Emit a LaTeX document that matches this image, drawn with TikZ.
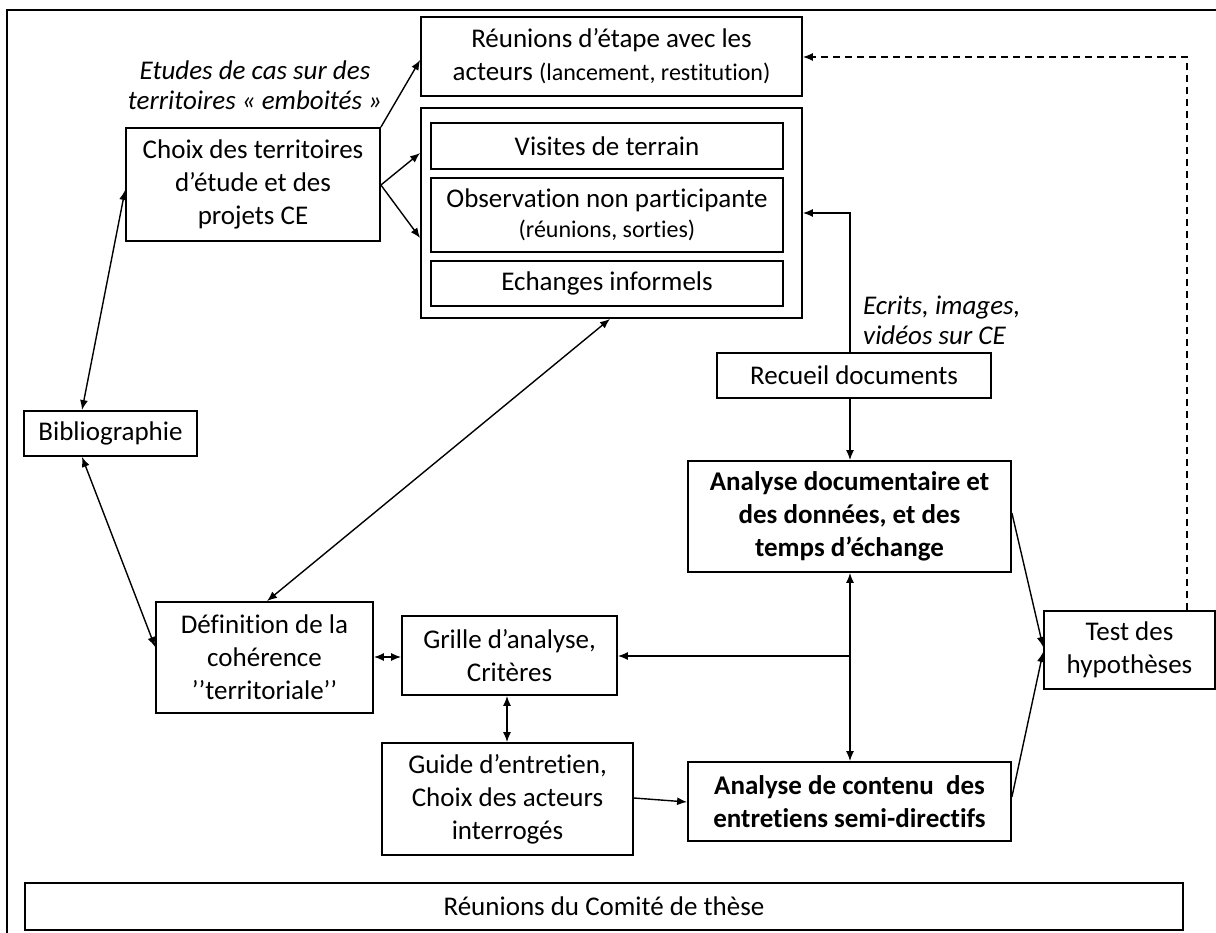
\documentclass[tikz,border=0pt]{standalone}
\usepackage{fontspec}
\setmainfont{Carlito}[Ligatures=NoCommon]
\usetikzlibrary{arrows.meta}
\begin{document}
\begin{tikzpicture}[x=1pt,y=-1pt,
  box/.style={draw,line width=1.8pt,inner sep=0pt,align=center,font=\fontsize{27}{33}\selectfont},
  lab/.style={inner sep=0pt,font=\fontsize{27}{30}\selectfont\itshape},
  arr/.style={line width=1.4pt,-{Latex[length=10pt,width=8pt]}},
  darr/.style={line width=1.4pt,{Latex[length=10pt,width=8pt]}-{Latex[length=10pt,width=8pt]}},
  dsh/.style={arr,dash pattern=on 7pt off 5pt}]
\useasboundingbox (0,0) rectangle (1216,933);
% frame
\draw[line width=2.2pt] (1216,10) -- (7,10) -- (7,933);
% nodes
\node[box,minimum width=381pt,minimum height=79pt] (reun) at (611.5,56.5)
  {Réunions d’étape avec les\\acteurs {\fontsize{24}{33}\selectfont(lancement, restitution)}};
\node[box,minimum width=381pt,minimum height=210pt] (group) at (611.5,213) {};
\node[box,minimum width=352pt,minimum height=46pt] (visites) at (607,146) {Visites de terrain};
\node[box,minimum width=352pt,minimum height=74pt] (obs) at (607,215)
  {Observation non participante\\[-3pt]{\fontsize{24}{29}\selectfont(réunions, sorties)}};
\node[box,minimum width=352pt,minimum height=45pt] (echanges) at (607,283.5) {Echanges informels};
\node[box,minimum width=254pt,minimum height=113pt] (choix) at (253,184.5)
  {Choix des territoires\\d’étude et des\\projets CE};
\node[lab,align=center] (etudes) at (255,85) {Etudes de cas sur des\\territoires « emboités »};
\node[box,minimum width=173pt,minimum height=45pt] (biblio) at (110.5,433.5) {Bibliographie};
\node[box,minimum width=217pt,minimum height=111pt] (defin) at (264.5,657.5)
  {Définition de la\\cohérence\\’’territoriale’’};
\node[box,minimum width=215pt,minimum height=79pt] (grille) at (509.5,655.5)
  {Grille d’analyse,\\Critères};
\node[box,minimum width=251pt,minimum height=112pt] (guide) at (507.5,799)
  {Guide d’entretien,\\Choix des acteurs\\interrogés};
\node[box,minimum width=274pt,minimum height=45pt] (recueil) at (854,375.5) {Recueil documents};
\node[lab,align=left,anchor=west] (ecrits) at (863,320) {Ecrits, images,\\vidéos sur CE};
\node[box,minimum width=323pt,minimum height=111pt,font=\fontsize{27}{33}\selectfont\bfseries] (analyse) at (849.5,516.5)
  {Analyse documentaire et\\des données, et des\\temps d’échange};
\node[box,minimum width=323pt,minimum height=79pt,font=\fontsize{27}{33}\selectfont\bfseries] (contenu) at (849.5,801.5)
  {Analyse de contenu~ des\\entretiens semi-directifs};
\node[box,minimum width=171pt,minimum height=78pt] (test) at (1129.5,650) {Test des\\hypothèses};
\node[box,minimum width=1158pt,minimum height=47pt] (comite) at (604,906.5) {Réunions du Comité de thèse};
\coordinate (j) at (850,656);
% connectors
\draw[arr] (choix.north east) -- (reun.west |- 0,60);
\draw[arr] (choix.east |- 0,185) -- (group.west |- 0,153);
\draw[arr] (choix.east |- 0,185) -- (group.west |- 0,238);
\draw[darr] (biblio.north -| 82,0) -- (choix.west |- 0,190);
\draw[darr] (biblio.south -| 82,0) -- (defin.west |- 0,647);
\draw[darr] (group.south -| 610,0) -- (defin.north -| 267,0);
\draw[darr] (defin.east |- 0,657) -- (grille.west |- 0,657);
\draw[darr] (grille.south -| 507,0) -- (guide.north -| 507,0);
\draw[arr] (guide.east |- 0,798) -- (contenu.west |- 0,802);
\draw[arr] (recueil.south -| 850,0) -- (analyse.north -| 850,0);
\draw[arr] (recueil.north -| 850,0) |- (group.east |- 0,213);
\draw[darr] (analyse.south -| 850,0) -- (contenu.north -| 850,0);
\draw[arr] (j) -- (grille.east |- j);
\draw[arr] (analyse.east |- 0,513) -- (test.west |- 0,647);
\draw[arr] (contenu.east |- 0,797) -- (test.west |- 0,652);
\draw[dsh] (test.north -| 1187,0) |- (reun.east |- 0,57);
\end{tikzpicture}
\end{document}
